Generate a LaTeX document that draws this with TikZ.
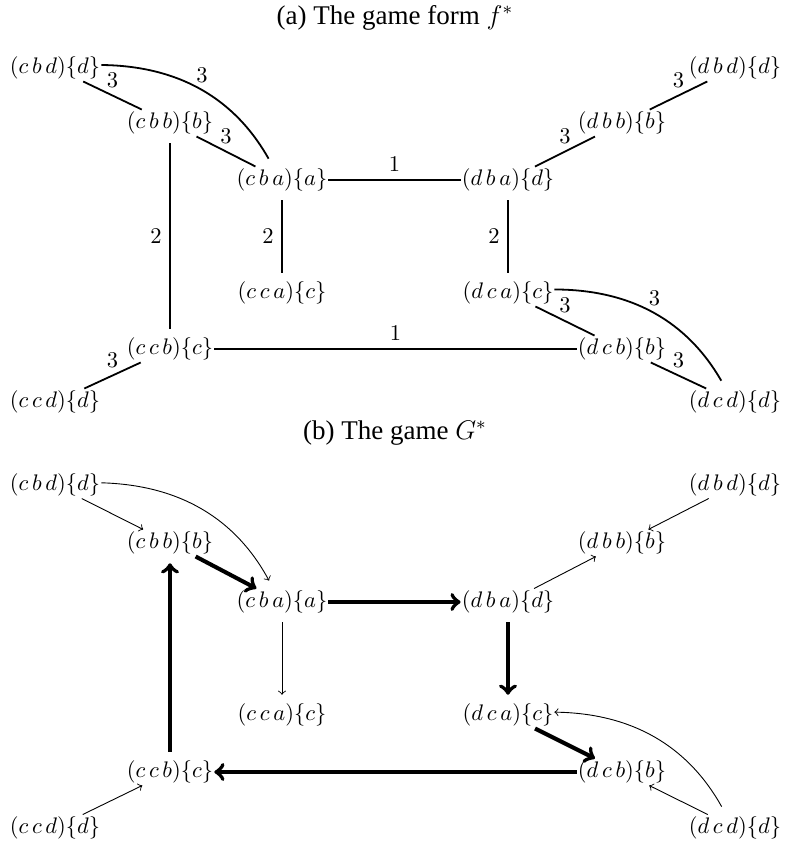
\documentclass[tikz,border=0pt]{standalone}
\usepackage{fontspec}
\setmainfont{Liberation Serif}
\begin{document}
\begin{tikzpicture}[x=0.4444pt,y=-0.4444pt,
  st/.style={inner xsep=0.3pt,inner ysep=0.8pt},
  ed/.style={thick},
  vt/.style={shorten >=3pt,shorten <=3pt},
  wt/.style={midway,above},
  wl/.style={midway,left},
  mv/.style={->,thin},
  bmv/.style={->,line width=1.8pt}]
\useasboundingbox (0,0) rectangle (786,846);

% (a) the game form
\node (ta) at (395,18) {\large (a) The game form $f^*$};
\node[st] (a1) at (55,68) {$(c\,b\,d)\{d\}$};
\node[st] (a2) at (170,123) {$(c\,b\,b)\{b\}$};
\node[st] (a3) at (282,180) {$(c\,b\,a)\{a\}$};
\node[st] (a4) at (508,180) {$(d\,b\,a)\{d\}$};
\node[st] (a5) at (622,123) {$(d\,b\,b)\{b\}$};
\node[st] (a6) at (735,68) {$(d\,b\,d)\{d\}$};
\node[st] (a7) at (282,293) {$(c\,c\,a)\{c\}$};
\node[st] (a8) at (508,293) {$(d\,c\,a)\{c\}$};
\node[st] (a9) at (170,349) {$(c\,c\,b)\{c\}$};
\node[st] (a10) at (622,349) {$(d\,c\,b)\{b\}$};
\node[st] (a11) at (55,402) {$(c\,c\,d)\{d\}$};
\node[st] (a12) at (735,402) {$(d\,c\,d)\{d\}$};

\draw[ed] (a1) -- node[wt] {$3$} (a2);
\draw[ed,shorten >=4pt] (a1) to[bend left=30] node[wt] {$3$} (a3);
\draw[ed] (a2) -- node[wt] {$3$} (a3);
\draw[ed] (a3) -- node[wt] {$1$} (a4);
\draw[ed] (a4) -- node[wt] {$3$} (a5);
\draw[ed] (a5) -- node[wt] {$3$} (a6);
\draw[ed,vt] (a2) -- node[wl] {$2$} (a9);
\draw[ed,vt] (a3) -- node[wl] {$2$} (a7);
\draw[ed,vt] (a4) -- node[wl] {$2$} (a8);
\draw[ed] (a9) -- node[wt] {$1$} (a10);
\draw[ed] (a9) -- node[wt] {$3$} (a11);
\draw[ed] (a8) -- node[wt] {$3$} (a10);
\draw[ed,shorten >=4pt] (a8) to[bend left=30] node[wt] {$3$} (a12);
\draw[ed] (a10) -- node[wt] {$3$} (a12);

% (b) the game
\node (tb) at (395,433) {\large (b) The game $G^*$};
\node[st] (b1) at (55,485) {$(c\,b\,d)\{d\}$};
\node[st] (b2) at (170,543) {$(c\,b\,b)\{b\}$};
\node[st] (b3) at (282,602) {$(c\,b\,a)\{a\}$};
\node[st] (b4) at (508,602) {$(d\,b\,a)\{d\}$};
\node[st] (b5) at (622,543) {$(d\,b\,b)\{b\}$};
\node[st] (b6) at (735,485) {$(d\,b\,d)\{d\}$};
\node[st] (b7) at (282,715) {$(c\,c\,a)\{c\}$};
\node[st] (b8) at (508,715) {$(d\,c\,a)\{c\}$};
\node[st] (b9) at (170,772) {$(c\,c\,b)\{c\}$};
\node[st] (b10) at (622,772) {$(d\,c\,b)\{b\}$};
\node[st] (b11) at (55,828) {$(c\,c\,d)\{d\}$};
\node[st] (b12) at (735,828) {$(d\,c\,d)\{d\}$};

\draw[mv] (b1) -- (b2);
\draw[mv,shorten >=4pt] (b1) to[bend left=30] (b3);
\draw[bmv] (b2) -- (b3);
\draw[bmv] (b3) -- (b4);
\draw[mv,vt] (b3) -- (b7);
\draw[bmv,vt] (b4) -- (b8);
\draw[mv] (b4) -- (b5);
\draw[mv] (b6) -- (b5);
\draw[bmv] (b8) -- (b10);
\draw[bmv] (b10) -- (b9);
\draw[bmv,vt] (b9) -- (b2);
\draw[mv] (b11) -- (b9);
\draw[mv] (b12) -- (b10);
\draw[mv,shorten <=4pt] (b12) to[bend right=30] (b8);
\end{tikzpicture}
\end{document}
